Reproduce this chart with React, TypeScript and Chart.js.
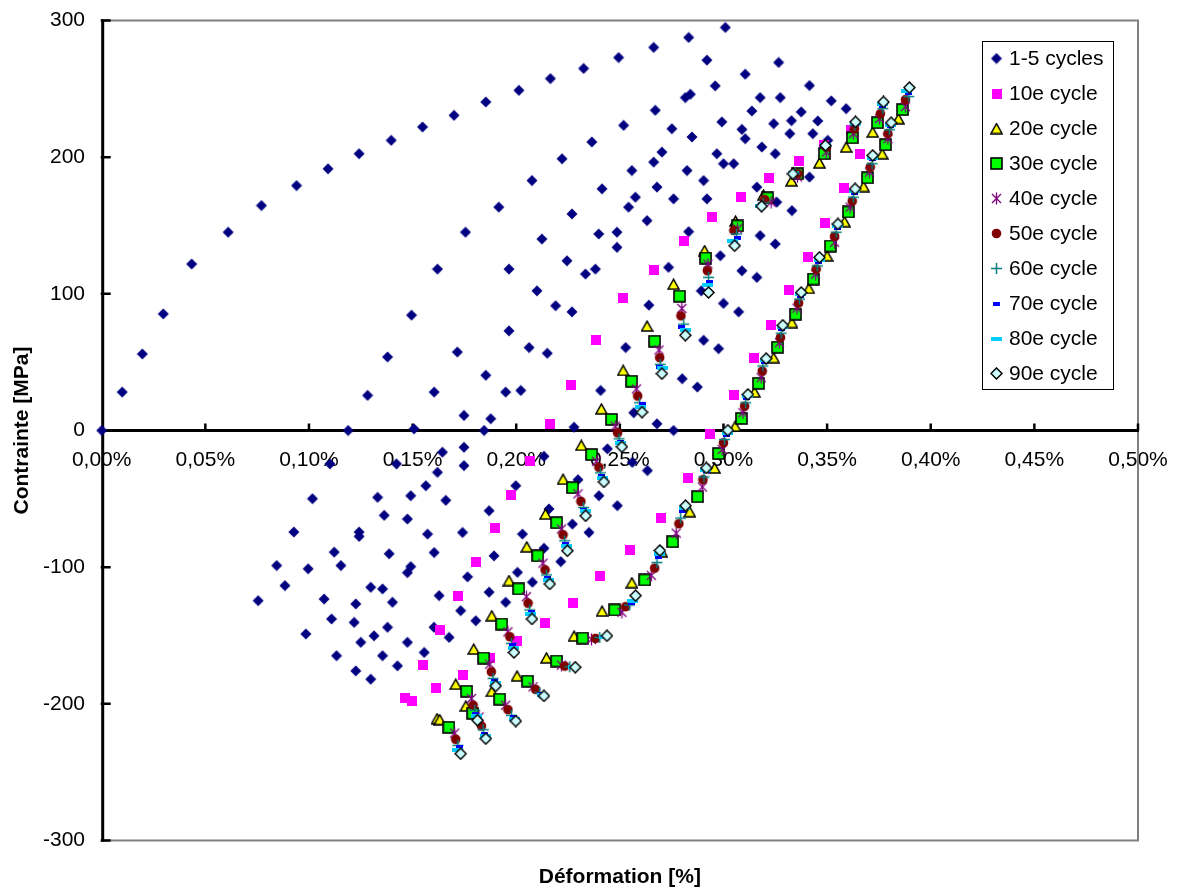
import React, { useEffect, useRef } from 'react';
import { Chart, registerables } from 'chart.js';
Chart.register(...registerables);

type P = [number, number];

const xTickValues = [0, 0.05, 0.1, 0.15, 0.2, 0.25, 0.3, 0.35, 0.4, 0.45, 0.5];
const yTickValues = [-300, -200, -100, 0, 100, 200, 300];
const seriesNames = ['1-5 cycles', '10e cycle', '20e cycle', '30e cycle', '40e cycle', '50e cycle', '60e cycle', '70e cycle', '80e cycle', '90e cycle'];

const cycles1to5: P[] = [
  [0,0],[0.0099,28.1],[0.0196,56.0],[0.0297,85.3],[0.0434,121.8],[0.0610,145.1],[0.0771,164.6],[0.0940,179.2],[0.1092,191.5],[0.1242,202.5],[0.1397,212.3],[0.1548,222.1],[0.1700,230.6],[0.1853,240.4],[0.2013,248.9],[0.2165,257.5],[0.2325,264.9],[0.2494,272.9],[0.2663,280.3],[0.2832,287.6],[0.3009,294.9],
  [0.2920,271.0],[0.3266,269.3],[0.3105,260.7],[0.2960,252.2],[0.2816,243.6],[0.2840,246.0],[0.2671,234.3],[0.2518,223.3],[0.2365,211.1],[0.2221,198.8],[0.2076,182.9],[0.1916,163.4],[0.1755,145.1],[0.1620,118.1],[0.1495,84.4],[0.1379,53.8],[0.1283,25.7],[0.1189,0],[0.1101,-24.4],[0.1017,-49.9],[0.0927,-74.3],[0.0844,-98.8],[0.0755,-124.5],
  [0.3177,243.6],[0.3274,243.6],[0.3137,233.8],[0.2992,225.8],[0.3089,220.3],[0.3105,213.5],[0.3242,224.5],[0.3328,226.7],[0.3320,217.2],[0.3185,207.4],[0.3250,202.5],[0.2968,202.5],[0.3000,195.2],[0.3049,195.2],[0.2848,214.8],[0.2751,220.8],[0.2703,203.7],[0.2663,196.4],[0.2824,190.2],[0.2904,182.9],[0.3161,178.1],[0.3257,167.1],[0.3330,160.9],[0.2558,190.2],[0.2414,176.8],[0.2575,170.7],[0.2542,163.4],[0.2679,178.1],[0.2759,169.5],[0.2920,169.5],[0.2631,153.6],[0.2832,145.5],[0.3177,142.6],[0.3250,136.5],[0.2985,127.9],[0.3089,116.9],[0.3161,112.0],[0.2735,119.4],[0.2486,145.1],[0.2486,134.0],[0.2398,143.8],[0.2269,158.5],[0.2124,140.1],[0.1965,118.1],[0.2245,124.2],[0.2334,114.5],[0.2382,118.1],[0.2100,102.2],[0.2893,102.2],
  [0.3415,252.4],[0.3520,241.2],[0.3592,235.5],[0.3375,233.1],[0.3455,226.5],[0.3431,217.2],[0.3503,212.3],[0.3415,185.4],
  [0.2190,91.3],[0.2269,86.8],[0.2640,91.7],[0.3000,93.0],[0.3073,86.8],[0.1965,72.9],[0.2062,60.7],[0.2150,56.5],[0.1716,57.4],[0.2528,60.7],[0.2904,66.0],[0.2976,59.9],[0.1853,40.4],[0.1604,28.1],[0.1949,28.1],[0.2022,29.3],[0.2407,29.3],[0.2801,37.9],[0.2874,31.8],[0.1748,11.0],[0.1877,8.6],[0.2567,13.0],[0.1507,1.2],[0.1845,0],[0.2279,2.4],[0.2679,4.9],[0.2759,0],
  [0.1748,-12.3],[0.1644,-15.9],[0.2440,-13.4],[0.2134,-18.9],[0.1620,-30.6],[0.1748,-25.7],[0.2633,-29.3],[0.2560,-23.3],[0.2298,-36.0],[0.1564,-40.4],[0.1998,-40.4],[0.1660,-51.1],[0.2399,-47.7],[0.2488,-55.0],[0.1491,-47.7],[0.1475,-64.8],[0.1869,-58.7],[0.2158,-57.4],[0.1572,-75.8],[0.1741,-74.6],[0.2030,-75.8],[0.2271,-68.5],[0.2351,-74.6],[0.1604,-89.3],[0.1893,-91.7],[0.2134,-86.2],[0.2215,-95.9],[0.2006,-103.8],[0.2078,-111.0],[0.1765,-107.1],[0.1491,-99.6],[0.1475,-104.0],
  [0.1331,-48.9],[0.1363,-62.1],[0.1242,-74.3],[0.1242,-77.5],[0.1122,-89.0],[0.1387,-90.2],[0.0996,-101.2],[0.1154,-98.8],[0.1422,-24.4],
  [0.0884,-113.5],[0.1073,-123.3],[0.1298,-114.7],[0.1355,-115.9],[0.1226,-126.9],[0.1403,-125.7],[0.1109,-137.9],[0.1218,-140.4],[0.1379,-144.0],[0.1314,-150.2],[0.1250,-155.0],[0.0985,-148.9],[0.1475,-155.0],[0.1556,-162.4],[0.1133,-164.8],[0.1355,-164.8],[0.1427,-172.2],[0.1226,-175.9],[0.1298,-182.0],[0.1628,-120.8],[0.1869,-118.3],[0.1949,-125.7],[0.1732,-131.8],[0.1805,-139.2],[0.1603,-144.0],[0.1676,-151.4],
];

const cycle10: P[] = [
  [0.1464,-195.7],[0.1496,-198.1],[0.1615,-188.6],[0.1744,-178.8],[0.1872,-166.5],[0.2006,-154.1],[0.2137,-140.9],[0.2274,-126.2],[0.2403,-106.8],[0.2547,-87.3],[0.2697,-64.1],[0.2827,-34.7],[0.2936,-2.9],[0.3053,25.9],[0.3147,52.8],[0.3227,77.0],[0.3315,102.9],[0.3407,127.1],[0.3492,151.9],[0.3581,177.4],[0.3661,202.0],
  [0.3613,220.1],[0.3483,209.1],[0.3364,196.9],[0.3219,184.7],[0.3086,171.2],[0.2946,156.5],[0.2809,138.5],[0.2664,117.6],[0.2515,96.7],[0.2387,66.3],[0.2266,33.2],[0.2162,5.1],[0.2068,-22.5],[0.1977,-47.0],[0.1896,-71.4],[0.1808,-96.1],[0.1719,-121.3],[0.1631,-145.8],[0.1551,-171.5],
];

const cycle20: P[] = [
  [0.3844,228.2],[0.3720,218.4],[0.3592,207.4],[0.3463,195.9],[0.3328,182.7],[0.3193,172.4],[0.3058,153.3],[0.2909,131.7],[0.2759,107.1],[0.2631,76.5],[0.2516,44.0],[0.2411,15.9],[0.2314,-10.8],[0.2226,-35.6],[0.2141,-61.1],[0.2051,-85.1],[0.1965,-109.8],[0.1882,-135.5],[0.1795,-159.9],[0.1708,-185.6],[0.1618,-210.8],[0.1631,-211.5],[0.1757,-201.5],[0.1882,-190.8],[0.2004,-179.5],[0.2146,-166.3],[0.2279,-150.4],[0.2414,-132.1],[0.2558,-111.3],[0.2702,-88.8],[0.2837,-59.4],[0.2957,-27.4],[0.3056,3.2],[0.3150,28.1],[0.3242,53.3],[0.3330,79.0],[0.3412,104.0],[0.3500,127.9],[0.3584,152.8],[0.3676,178.5],[0.3766,202.5],
];

const cycle30: P[] = [
  [0.3864,234.8],[0.3743,225.2],[0.3622,214.2],[0.3487,202.5],[0.3357,187.8],[0.3213,170.2],[0.3068,149.7],[0.2914,126.2],[0.2788,98.3],[0.2668,65.3],[0.2557,36.0],[0.2460,8.1],[0.2364,-17.6],[0.2272,-41.8],[0.2195,-67.5],[0.2104,-91.7],[0.2012,-115.9],[0.1930,-141.6],[0.1843,-166.5],[0.1761,-190.8],[0.1675,-217.2],[0.1790,-206.9],[0.1920,-196.6],[0.2055,-183.4],[0.2195,-168.7],[0.2321,-151.9],[0.2475,-131.3],[0.2620,-109.3],[0.2755,-81.4],[0.2875,-48.4],[0.2976,-16.9],[0.3087,8.8],[0.3169,34.5],[0.3261,60.9],[0.3348,85.1],[0.3434,110.8],[0.3516,135.0],[0.3603,159.9],[0.3695,184.9],[0.3782,209.1],
];

const cycle40: P[] = [
  [0.3878,237.0],[0.3753,228.2],[0.3627,217.2],[0.3496,203.7],[0.3357,185.6],[0.3230,167.1],[0.3068,147.5],[0.2925,121.8],[0.2799,89.3],[0.2689,58.9],[0.2580,30.4],[0.2478,3.2],[0.2387,-22.5],[0.2298,-46.4],[0.2218,-72.1],[0.2129,-97.1],[0.2049,-121.6],[0.1960,-147.3],[0.1872,-171.0],[0.1784,-196.1],[0.1703,-221.4],[0.1821,-209.6],[0.1949,-201.0],[0.2081,-187.6],[0.2218,-171.7],[0.2363,-152.8],[0.2510,-133.0],[0.2652,-106.0],[0.2772,-75.1],[0.2898,-41.3],[0.2994,-13.9],[0.3094,13.0],[0.3182,38.7],[0.3270,64.3],[0.3355,89.5],[0.3444,114.5],[0.3536,137.7],[0.3611,163.4],[0.3704,189.1],[0.3793,213.5],
];

const cycle50: P[] = [
  [0.3878,242.1],[0.3757,231.8],[0.3632,220.8],[0.3497,207.3],[0.3359,187.8],[0.3198,169.0],[0.3050,146.4],[0.2922,116.9],[0.2795,83.9],[0.2692,53.3],[0.2586,25.2],[0.2489,-1.7],[0.2399,-26.9],[0.2312,-51.9],[0.2226,-76.3],[0.2139,-102.0],[0.2057,-126.4],[0.1969,-150.9],[0.1880,-176.6],[0.1792,-201.0],[0.1708,-226.0],[0.1832,-216.2],[0.1960,-204.2],[0.2094,-189.5],[0.2234,-172.4],[0.2383,-152.1],[0.2528,-128.9],[0.2668,-100.7],[0.2785,-68.2],[0.2901,-36.0],[0.3000,-9.0],[0.3102,17.8],[0.3187,43.5],[0.3275,68.0],[0.3362,93.2],[0.3447,118.1],[0.3536,142.1],[0.3621,167.8],[0.3708,192.7],[0.3793,217.2],
];

const cycle60: P[] = [
  [0.3894,244.3],[0.3769,235.5],[0.3634,223.4],[0.3495,208.0],[0.3343,188.2],[0.3191,166.5],[0.3063,143.8],[0.2928,112.0],[0.2808,77.8],[0.2695,48.4],[0.2595,20.3],[0.2496,-6.1],[0.2406,-31.0],[0.2325,-56.3],[0.2234,-80.7],[0.2146,-105.7],[0.2065,-131.3],[0.1977,-155.8],[0.1888,-181.4],[0.1800,-204.7],[0.1719,-230.4],[0.1841,-219.0],[0.1977,-208.4],[0.2113,-192.0],[0.2258,-172.9],[0.2403,-151.4],[0.2547,-127.7],[0.2679,-96.6],[0.2793,-64.1],[0.2906,-34.0],[0.3005,-6.6],[0.3107,20.3],[0.3190,47.2],[0.3278,71.2],[0.3367,96.1],[0.3453,120.5],[0.3544,145.1],[0.3627,170.7],[0.3717,195.2],[0.3801,220.1],
];

const cycle70: P[] = [
  [0.3892,247.3],[0.3767,237.4],[0.3635,224.5],[0.3494,208.4],[0.3338,188.2],[0.3184,165.1],[0.3068,141.2],[0.2933,108.6],[0.2799,75.4],[0.2692,46.7],[0.2608,19.1],[0.2501,-8.1],[0.2412,-33.4],[0.2327,-58.0],[0.2239,-82.9],[0.2152,-107.9],[0.2073,-133.0],[0.1983,-157.2],[0.1896,-183.2],[0.1805,-207.3],[0.1728,-231.6],[0.1848,-221.8],[0.1985,-209.8],[0.2121,-192.6],[0.2268,-172.9],[0.2415,-151.1],[0.2557,-126.2],[0.2686,-92.4],[0.2804,-59.1],[0.2918,-29.9],[0.3013,-3.3],[0.3111,23.5],[0.3198,50.3],[0.3282,74.1],[0.3371,98.3],[0.3459,123.6],[0.3548,148.2],[0.3631,173.9],[0.3719,198.5],[0.3806,222.7],
];

const cycle80: P[] = [
  [0.3883,248.7],[0.3765,238.8],[0.3637,224.9],[0.3492,208.6],[0.3336,188.2],[0.3179,164.3],[0.3045,138.9],[0.2925,106.6],[0.2816,73.6],[0.2708,45.5],[0.2599,17.4],[0.2504,-9.2],[0.2417,-34.9],[0.2335,-59.1],[0.2241,-84.4],[0.2154,-109.3],[0.2070,-134.6],[0.1986,-158.8],[0.1899,-184.5],[0.1810,-209.1],[0.1719,-233.5],[0.1851,-223.4],[0.1990,-210.9],[0.2125,-193.3],[0.2275,-173.2],[0.2424,-150.8],[0.2562,-124.7],[0.2689,-90.6],[0.2811,-56.5],[0.2914,-28.6],[0.3017,-1.5],[0.3115,24.9],[0.3203,51.4],[0.3285,75.6],[0.3373,99.8],[0.3461,125.1],[0.3550,149.7],[0.3634,175.4],[0.3720,199.6],[0.3808,223.8],
];

const cycle90: P[] = [
  [0.3897,250.9],[0.3772,240.4],[0.3637,225.8],[0.3492,208.6],[0.3335,187.8],[0.3184,164.1],[0.3054,135.2],[0.2928,101.0],[0.2816,69.7],[0.2703,41.6],[0.2607,13.4],[0.2510,-11.9],[0.2423,-37.6],[0.2335,-62.4],[0.2247,-88.0],[0.2162,-112.3],[0.2076,-137.9],[0.1989,-162.4],[0.1901,-186.9],[0.1813,-212.0],[0.1732,-236.5],[0.1853,-225.5],[0.1998,-212.6],[0.2134,-194.2],[0.2285,-173.2],[0.2438,-150.2],[0.2576,-120.8],[0.2693,-87.8],[0.2817,-55.0],[0.2917,-27.4],[0.3021,0.2],[0.3118,26.4],[0.3206,52.6],[0.3286,77.0],[0.3375,101.0],[0.3463,126.7],[0.3552,151.1],[0.3635,176.8],[0.3720,201.3],[0.3809,225.2],
];

const allSeries: P[][] = [cycles1to5, cycle10, cycle20, cycle30, cycle40, cycle50, cycle60, cycle70, cycle80, cycle90];

const FONT = '"Liberation Sans", Arial, Helvetica, sans-serif';

function mk(w: number, h: number, draw: (g: CanvasRenderingContext2D) => void): HTMLCanvasElement {
  const c = document.createElement('canvas');
  c.width = w; c.height = h;
  const g = c.getContext('2d')!;
  draw(g);
  return c;
}

function makeMarkers(): HTMLCanvasElement[] {
  const navy = mk(12, 12, g => {
    g.fillStyle = '#000080';
    g.beginPath(); g.moveTo(6, 0.5); g.lineTo(11.5, 6); g.lineTo(6, 11.5); g.lineTo(0.5, 6); g.closePath(); g.fill();
  });
  const pink = mk(10, 10, g => { g.fillStyle = '#FF00FF'; g.fillRect(0, 0, 10, 10); });
  const tri = mk(13, 12, g => {
    g.fillStyle = '#FFFF00'; g.strokeStyle = '#000'; g.lineWidth = 1.5; g.lineJoin = 'miter';
    g.beginPath(); g.moveTo(6.5, 1.2); g.lineTo(12, 11); g.lineTo(1, 11); g.closePath(); g.fill(); g.stroke();
  });
  const sq = mk(13, 13, g => {
    g.fillStyle = '#00FF00'; g.strokeStyle = '#000'; g.lineWidth = 1.6;
    g.fillRect(1, 1, 11, 11); g.strokeRect(1, 1, 11, 11);
  });
  const ast = mk(13, 13, g => {
    g.strokeStyle = '#800080'; g.lineWidth = 1.3;
    g.beginPath();
    g.moveTo(2, 2); g.lineTo(11, 11);
    g.moveTo(11, 2); g.lineTo(2, 11);
    g.moveTo(6.5, 0.5); g.lineTo(6.5, 12.5);
    g.stroke();
  });
  const circ = mk(11, 11, g => {
    g.fillStyle = '#800000'; g.beginPath(); g.arc(5.5, 5.5, 4.8, 0, Math.PI * 2); g.fill();
  });
  const plus = mk(13, 13, g => {
    g.strokeStyle = '#008080'; g.lineWidth = 1.5;
    g.beginPath(); g.moveTo(1, 6.5); g.lineTo(12, 6.5); g.moveTo(6.5, 1); g.lineTo(6.5, 12); g.stroke();
  });
  const dash70 = mk(7, 4, g => { g.fillStyle = '#0000FF'; g.fillRect(0, 0, 7, 4); });
  const dash80 = mk(11, 4, g => { g.fillStyle = '#00CCFF'; g.fillRect(0, 0, 11, 4); });
  const dia = mk(13, 13, g => {
    g.fillStyle = '#CCFFFF'; g.strokeStyle = '#000'; g.lineWidth = 1.5;
    g.beginPath(); g.moveTo(6.5, 1); g.lineTo(12, 6.5); g.lineTo(6.5, 12); g.lineTo(1, 6.5); g.closePath(); g.fill(); g.stroke();
  });
  return [navy, pink, tri, sq, ast, circ, plus, dash70, dash80, dia];
}

function zeroPadding(s: any) {
  s.paddingTop = 0; s.paddingBottom = 0; s.paddingLeft = 0; s.paddingRight = 0;
}

export default function App() {
  const ref = useRef<HTMLCanvasElement>(null);
  useEffect(() => {
    document.body.style.margin = '0';
    document.body.style.background = '#fff';
    const markers = makeMarkers();

    const framePlugin = {
      id: 'excelFrame',
      beforeDatasetsDraw(chart: any) {
        const { ctx, chartArea: ca, scales } = chart;
        const xs = scales.x, ys = scales.y;
        const y0 = ys.getPixelForValue(0);
        ctx.save();
        ctx.strokeStyle = '#808080'; ctx.lineWidth = 2;
        ctx.beginPath();
        ctx.moveTo(ca.left, ca.top); ctx.lineTo(ca.right, ca.top); ctx.lineTo(ca.right, ca.bottom); ctx.lineTo(ca.left, ca.bottom);
        ctx.stroke();
        ctx.strokeStyle = '#000'; ctx.lineWidth = 3; ctx.lineCap = 'butt';
        ctx.beginPath();
        ctx.moveTo(ca.left + 1, ca.top - 1); ctx.lineTo(ca.left + 1, ca.bottom + 1);
        ctx.moveTo(ca.left, y0); ctx.lineTo(ca.right + 1, y0);
        ctx.stroke();
        ctx.lineWidth = 2.5;
        ctx.beginPath();
        for (const v of xTickValues) {
          if (v === 0) continue;
          const px = xs.getPixelForValue(v);
          ctx.moveTo(px, y0); ctx.lineTo(px, y0 - 7);
        }
        for (const v of yTickValues) {
          const py = ys.getPixelForValue(v);
          ctx.moveTo(ca.left - 1, py); ctx.lineTo(ca.left + 9, py);
        }
        ctx.stroke();
        ctx.restore();
      },
      afterDraw(chart: any) {
        const { ctx, chartArea: ca } = chart;
        ctx.save();
        ctx.fillStyle = '#000';
        ctx.font = 'bold 21px ' + FONT;
        ctx.textAlign = 'center'; ctx.textBaseline = 'middle';
        ctx.fillText('Déformation [%]', (ca.left + ca.right) / 2, 877);
        ctx.save();
        ctx.translate(22, (ca.top + ca.bottom) / 2);
        ctx.rotate(-Math.PI / 2);
        ctx.fillText('Contrainte [MPa]', 0, 0);
        ctx.restore();
        const lx = 982, ly = 41, lw = 131, lh = 348;
        ctx.fillStyle = '#fff';
        ctx.fillRect(lx, ly, lw, lh);
        ctx.strokeStyle = '#000'; ctx.lineWidth = 1;
        ctx.strokeRect(lx + 0.5, ly + 0.5, lw, lh);
        ctx.font = '21px ' + FONT;
        ctx.textAlign = 'left'; ctx.textBaseline = 'middle';
        seriesNames.forEach((name, i) => {
          const cy = 58.5 + 35 * i;
          const m = markers[i];
          ctx.drawImage(m, 996.5 - m.width / 2, cy - m.height / 2);
          ctx.fillStyle = '#000';
          ctx.fillText(name, 1009, cy + 1);
        });
        ctx.restore();
      },
    };

    const chart = new Chart(ref.current!, {
      type: 'scatter',
      data: {
        datasets: allSeries.map((pts, i) => ({
          label: seriesNames[i],
          data: pts.map(([x, y]) => ({ x, y })),
          pointStyle: markers[i] as any,
          pointRadius: 5,
          pointHoverRadius: 5,
          showLine: false,
          clip: false as any,
          order: 9 - i,
        })),
      },
      options: {
        animation: false,
        responsive: false,
        devicePixelRatio: 1,
        events: [],
        layout: { padding: { left: 0, top: 20.5, right: 39, bottom: 48.5 } },
        plugins: { legend: { display: false }, tooltip: { enabled: false } },
        scales: {
          x: {
            type: 'linear',
            position: { y: 0 } as any,
            min: 0, max: 0.5,
            afterFit: zeroPadding,
            grid: { display: false, drawTicks: false },
            border: { display: false },
            ticks: {
              stepSize: 0.05, padding: 17, color: '#000', maxRotation: 0, autoSkip: false,
              font: { size: 21, family: FONT },
              callback: (v: any) => Number(v).toFixed(2).replace('.', ',') + '%',
            },
          },
          y: {
            type: 'linear',
            position: 'left',
            min: -300, max: 300,
            afterFit: (s: any) => { s.width = 101.7; zeroPadding(s); },
            grid: { display: false, drawTicks: false },
            border: { display: false },
            ticks: {
              stepSize: 100, padding: 16.7, color: '#000',
              font: { size: 21, family: FONT },
              callback: (v: any) => String(v),
            },
          },
        },
      },
      plugins: [framePlugin],
    } as any);
    return () => chart.destroy();
  }, []);
  return (
    <div style={{ width: 1177, height: 889, background: '#fff' }}>
      <canvas ref={ref} width={1177} height={889} style={{ display: 'block' }} />
    </div>
  );
}
